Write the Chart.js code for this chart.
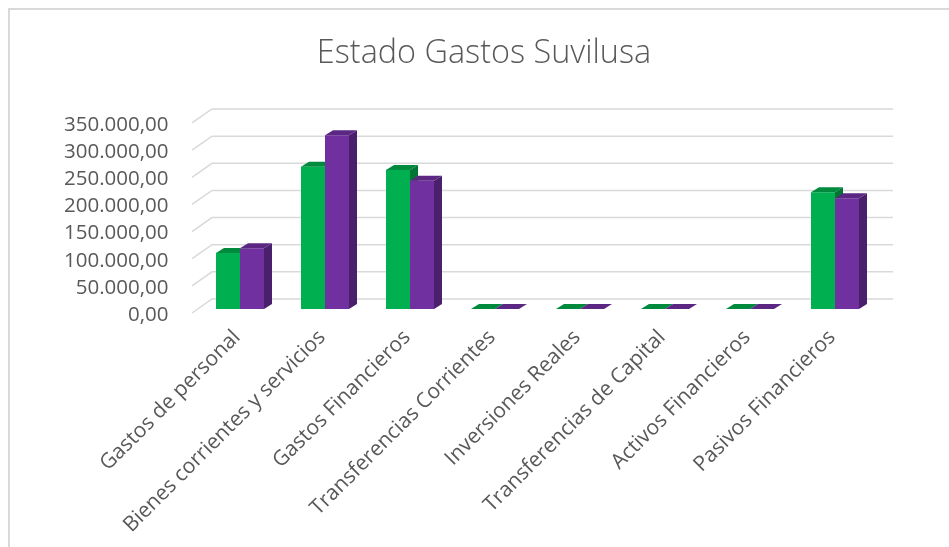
<!DOCTYPE html>
<html><head><meta charset="utf-8">
<script src="https://cdn.jsdelivr.net/npm/chart.js@4.4.0/dist/chart.umd.min.js"></script>
<style>
html,body{margin:0;padding:0;background:#fff;}
#wrap{position:relative;width:949px;height:547px;overflow:hidden;}
#frame{position:absolute;left:8px;top:8px;width:1000px;height:600px;border-left:2px solid #d9d9d9;border-top:2px solid #d9d9d9;box-sizing:border-box;pointer-events:none;}
canvas{position:absolute;left:0;top:0;}
</style></head><body>
<div id="wrap"><canvas id="c" width="949" height="547"></canvas><div id="frame"></div></div>
<script>
const categories = ["Gastos de personal","Bienes corrientes y servicios","Gastos Financieros","Transferencias Corrientes","Inversiones Reales","Transferencias de Capital","Activos Financieros","Pasivos Financieros"];
const serie1 = [103000, 262000, 256000, 0, 0, 0, 0, 215000];
const serie2 = [112000, 320000, 236000, 0, 0, 0, 0, 204000];
const yTicks = [0, 50000, 100000, 150000, 200000, 250000, 300000, 350000];

const FONT = "'Open Sans', sans-serif";
const TXT = '#595959';
const DX = 8, DY = -5;
const shade = [{top:'#008a3e', side:'#007534'}, {top:'#5b2783', side:'#4a1f6c'}];

function fmt(v){
  const s = Math.round(v).toString().replace(/\B(?=(\d{3})+(?!\d))/g, '.');
  return s + ',00';
}

const grid3d = {
  id:'grid3d',
  beforeDatasetsDraw(chart){
    const ctx = chart.ctx, y = chart.scales.y, a = chart.chartArea;
    ctx.save();
    ctx.strokeStyle = '#d9d9d9'; ctx.lineWidth = 1.5;
    yTicks.forEach(v => {
      const py = y.getPixelForValue(v);
      ctx.beginPath();
      ctx.moveTo(a.left - 5.5, py + 4);
      ctx.lineTo(a.left + 14.5, py - 10);
      ctx.lineTo(a.right + 15.5, py - 10);
      ctx.stroke();
    });
    ctx.restore();
  }
};

function faces(ctx, p, s){
  const l = p.x - p.width/2, r = p.x + p.width/2, t = p.y, b = p.base;
  ctx.fillStyle = s.side;
  ctx.beginPath();
  ctx.moveTo(r, t); ctx.lineTo(r+DX, t+DY); ctx.lineTo(r+DX, b+DY); ctx.lineTo(r, b);
  ctx.closePath(); ctx.fill();
  ctx.fillStyle = s.top;
  ctx.beginPath();
  ctx.moveTo(l, t); ctx.lineTo(r, t); ctx.lineTo(r+DX, t+DY); ctx.lineTo(l+DX, t+DY);
  ctx.closePath(); ctx.fill();
}

const bar3d = {
  id:'bar3d',
  afterDatasetsDraw(chart){
    const ctx = chart.ctx;
    const g = chart.getDatasetMeta(0).data, pu = chart.getDatasetMeta(1).data;
    const W = chart.width, H = chart.height;
    g.forEach((bar, i) => {
      const p = bar.getProps(['x','y','base','width'], true);
      const q = pu[i].getProps(['x','y','base','width'], true);
      ctx.save();
      ctx.beginPath();
      ctx.rect(0, 0, W, H);
      ctx.rect(q.x - q.width/2, q.y, q.width, q.base - q.y);
      ctx.clip('evenodd');
      faces(ctx, p, shade[0]);
      ctx.restore();
      ctx.save();
      faces(ctx, q, shade[1]);
      ctx.restore();
    });
  }
};

new Chart(document.getElementById('c'), {
  type:'bar',
  data:{
    labels: categories,
    datasets:[
      {label:'Serie1', data: serie1, backgroundColor:'#00B050', barPercentage:1, categoryPercentage:48/85},
      {label:'Serie2', data: serie2, backgroundColor:'#7030A0', barPercentage:1, categoryPercentage:48/85}
    ]
  },
  options:{
    responsive:false,
    animation:false,
    devicePixelRatio:1,
    layout:{padding:{left:19,right:0,top:0,bottom:0}},
    plugins:{
      legend:{display:false},
      tooltip:{enabled:false},
      title:{display:true, text:'Estado Gastos Suvilusa', color:TXT,
        font:{family:FONT, size:32.4, weight:'300', lineHeight:1.2},
        padding:{top:34, bottom:46.1}}
    },
    scales:{
      x:{
        grid:{display:false, drawTicks:false},
        border:{display:false},
        ticks:{color:TXT, font:{family:FONT, size:21}, maxRotation:45, minRotation:45, autoSkip:false, padding:16, labelOffset:-3},
        afterFit(s){ s.height = 238; }
      },
      y:{
        min:0, max:350000,
        grid:{display:false, drawTicks:false},
        border:{display:false},
        ticks:{stepSize:50000, autoSkip:false, color:TXT, font:{family:FONT, size:20.5}, padding:29, labelOffset:6,
          callback:(v)=>fmt(v)},
        afterFit(s){ s.width = 178.5; },
        afterBuildTicks(s){ s.ticks = yTicks.map(v=>({value:v})); }
      },
      yr:{
        position:'right', min:0, max:350000,
        grid:{display:false, drawTicks:false},
        border:{display:false},
        ticks:{display:false},
        afterFit(s){ s.width = 71.5; }
      }
    }
  },
  plugins:[grid3d, bar3d]
});
</script>
</body></html>
